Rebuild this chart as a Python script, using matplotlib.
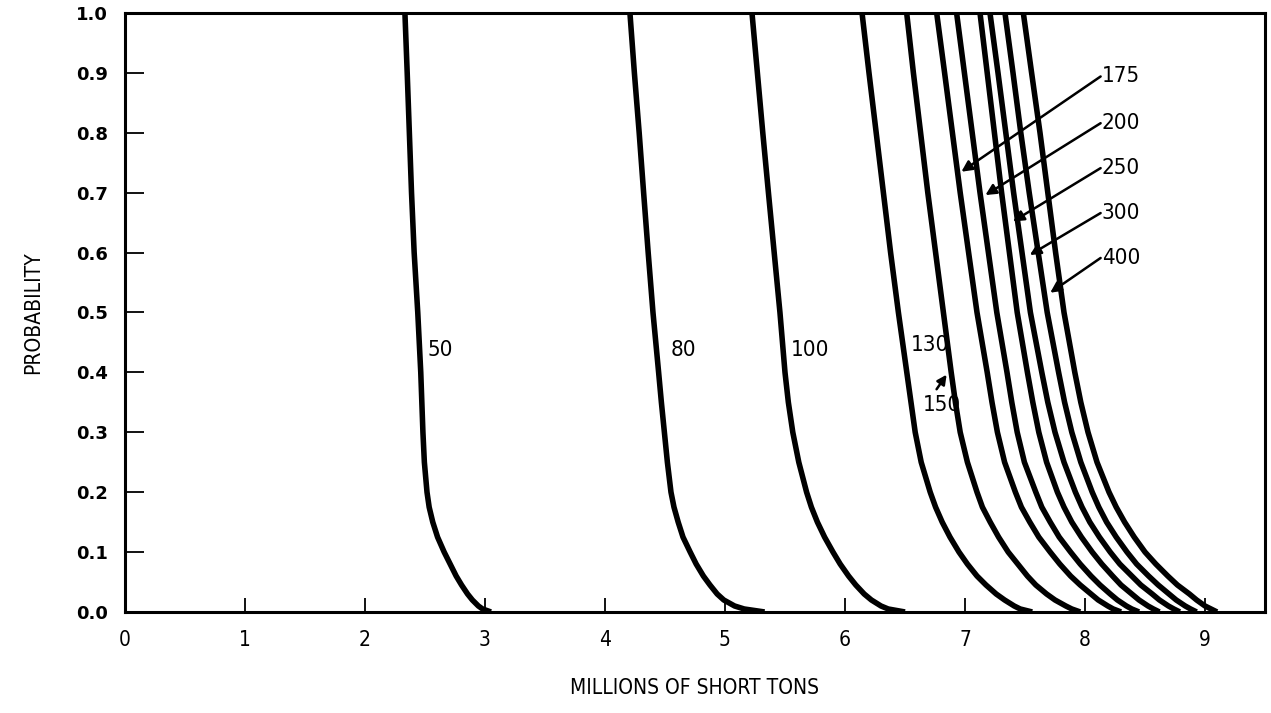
import matplotlib
matplotlib.use("Agg")
import matplotlib.pyplot as plt

# probability levels shared by every curve
prob = [1.0, 0.9, 0.8, 0.7, 0.6, 0.5, 0.4, 0.35, 0.3, 0.25, 0.2, 0.175,
        0.15, 0.125, 0.1, 0.08, 0.06, 0.045, 0.03, 0.02, 0.01, 0.005, 0.0]

# millions of short tons at each probability level, one list per curve
tons_50 = [2.333, 2.352, 2.37, 2.388, 2.41, 2.44, 2.465, 2.474, 2.483, 2.495, 2.517, 2.535,
           2.565, 2.605, 2.66, 2.71, 2.76, 2.805, 2.855, 2.895, 2.945, 2.98, 3.05]
tons_80 = [4.208, 4.245, 4.285, 4.322, 4.36, 4.40, 4.447, 4.47, 4.495, 4.52, 4.55, 4.575,
           4.61, 4.65, 4.71, 4.76, 4.82, 4.875, 4.935, 4.99, 5.08, 5.16, 5.33]
tons_100 = [5.225, 5.27, 5.315, 5.362, 5.41, 5.458, 5.50, 5.528, 5.565, 5.615, 5.68, 5.72,
            5.77, 5.83, 5.90, 5.96, 6.03, 6.09, 6.16, 6.22, 6.30, 6.36, 6.50]
tons_130 = [6.142, 6.20, 6.26, 6.32, 6.38, 6.445, 6.515, 6.55, 6.585, 6.635, 6.71, 6.755,
            6.81, 6.875, 6.95, 7.02, 7.10, 7.175, 7.26, 7.33, 7.41, 7.46, 7.56]
tons_150 = [6.514, 6.57, 6.63, 6.69, 6.755, 6.82, 6.885, 6.92, 6.96, 7.02, 7.10, 7.145,
            7.21, 7.28, 7.36, 7.44, 7.52, 7.59, 7.68, 7.75, 7.84, 7.89, 7.96]
tons_175 = [6.764, 6.83, 6.895, 6.96, 7.03, 7.10, 7.185, 7.225, 7.27, 7.33, 7.42, 7.47,
            7.54, 7.615, 7.71, 7.79, 7.88, 7.96, 8.05, 8.11, 8.19, 8.235, 8.30]
tons_200 = [6.93, 6.995, 7.06, 7.125, 7.195, 7.265, 7.35, 7.39, 7.435, 7.495, 7.59, 7.64,
            7.71, 7.785, 7.88, 7.96, 8.05, 8.125, 8.21, 8.27, 8.345, 8.39, 8.45]
tons_250 = [7.125, 7.185, 7.245, 7.305, 7.37, 7.435, 7.52, 7.565, 7.615, 7.68, 7.77, 7.825,
            7.89, 7.97, 8.06, 8.14, 8.23, 8.30, 8.39, 8.45, 8.525, 8.57, 8.62]
tons_300 = [7.208, 7.275, 7.34, 7.405, 7.475, 7.545, 7.64, 7.69, 7.75, 7.825, 7.92, 7.975,
            8.04, 8.12, 8.21, 8.29, 8.39, 8.465, 8.56, 8.62, 8.695, 8.74, 8.79]
tons_350 = [7.333, 7.40, 7.465, 7.535, 7.61, 7.685, 7.78, 7.83, 7.89, 7.965, 8.06, 8.115,
            8.18, 8.26, 8.35, 8.43, 8.53, 8.61, 8.70, 8.76, 8.835, 8.88, 8.93]
tons_400 = [7.486, 7.555, 7.625, 7.69, 7.755, 7.825, 7.915, 7.965, 8.025, 8.10, 8.20, 8.26,
            8.33, 8.41, 8.50, 8.59, 8.69, 8.77, 8.87, 8.93, 9.00, 9.05, 9.10]

curves = [tons_50, tons_80, tons_100, tons_130, tons_150, tons_175,
          tons_200, tons_250, tons_300, tons_350, tons_400]

xticks = [0, 1, 2, 3, 4, 5, 6, 7, 8, 9]
yticks = [0.0, 0.1, 0.2, 0.3, 0.4, 0.5, 0.6, 0.7, 0.8, 0.9, 1.0]

plt.rcParams['font.family'] = ['DejaVu Sans']
narrow = dict(fontstretch="condensed")

fig = plt.figure(figsize=(12.71, 7.13), dpi=100)
ax = fig.add_axes([0.0983, 0.1417, 0.8970, 0.8401])

for tons in curves:
    ax.plot(tons, prob, color="black", linewidth=4.0,
            solid_joinstyle="round", solid_capstyle="butt")

ax.set_xlim(0, 9.5)
ax.set_ylim(0, 1.0)
ax.set_xticks(xticks)
ax.set_yticks(yticks)
ax.set_xticklabels([str(t) for t in xticks], fontsize=15, **narrow)
ax.set_yticklabels(["%.1f" % t for t in yticks], fontsize=13, fontweight="bold")
ax.tick_params(axis="x", direction="in", length=10, width=1.3, pad=13)
ax.tick_params(axis="y", direction="in", length=14, width=1.3, pad=12)
for s in ax.spines.values():
    s.set_linewidth(2.2)

ax.set_xlabel("MILLIONS OF SHORT TONS", fontsize=15, labelpad=20, **narrow)
ax.set_ylabel("PROBABILITY", fontsize=15, labelpad=24, **narrow)

# curve labels written beside the lines
lab_kw = dict(fontsize=16, ha="center", va="center", **narrow)
ax.text(2.625, 0.437, "50", **lab_kw)
ax.text(4.65, 0.437, "80", **lab_kw)
ax.text(5.71, 0.437, "100", **lab_kw)
ax.text(6.71, 0.446, "130", **lab_kw)
ax.text(6.81, 0.346, "150", **lab_kw)
ax.annotate("", xy=(6.86, 0.40), xytext=(6.75, 0.368),
            arrowprops=dict(arrowstyle="-|>", color="black", lw=1.8, mutation_scale=14))

# labels with arrows on the right
right_labels = ["175", "200", "250", "300", "400"]
label_y = [0.894, 0.816, 0.741, 0.666, 0.591]
tip_xy = [(6.97, 0.735), (7.17, 0.696), (7.40, 0.652), (7.54, 0.596), (7.71, 0.533)]
for lab, ly, tip in zip(right_labels, label_y, tip_xy):
    ax.text(8.14, ly, lab, fontsize=16, ha="left", va="center", **narrow)
    ax.annotate("", xy=tip, xytext=(8.13, ly),
                arrowprops=dict(arrowstyle="-|>", color="black", lw=1.8,
                                mutation_scale=16, shrinkA=0, shrinkB=0))

fig.savefig("out.png", dpi=100)
